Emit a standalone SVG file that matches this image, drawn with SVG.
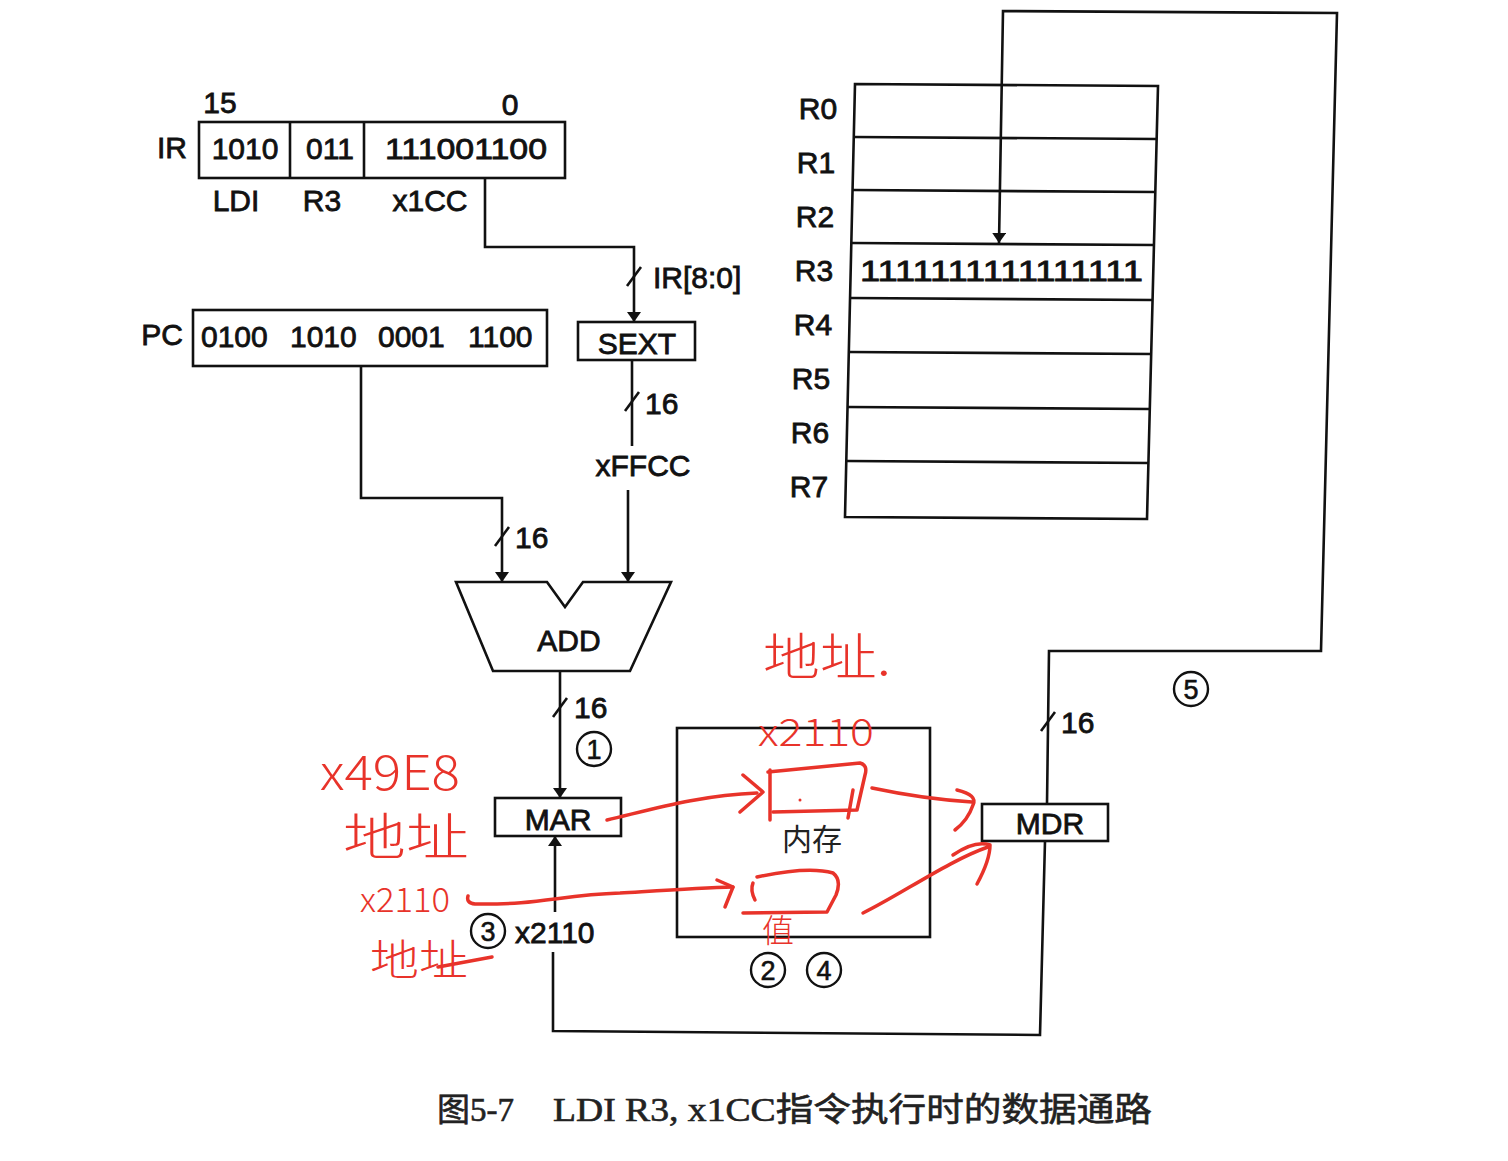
<svg xmlns="http://www.w3.org/2000/svg" width="1508" height="1161" viewBox="0 0 1508 1161">
<style>
.ln{stroke:#111;stroke-width:2.6;fill:none}
.bx{stroke:#111;stroke-width:2.6;fill:none}
.t{font-family:"Liberation Sans",Arial,sans-serif;font-size:30px;fill:#111;stroke:#111;stroke-width:0.8}
.tc{font-family:"Liberation Sans",Arial,sans-serif;font-size:30px;fill:#111;stroke:#111;stroke-width:0.8;text-anchor:middle}
.cj{font-family:"Noto Sans CJK SC",sans-serif;font-size:30px;fill:#222;text-anchor:middle}
.cap{font-family:"Liberation Serif","Noto Sans CJK SC",serif;font-size:33px;fill:#222;stroke:#222;stroke-width:0.6}
.num{font-family:"Liberation Sans",Arial,sans-serif;font-size:27px;fill:#111;stroke:#111;stroke-width:0.6;text-anchor:middle}
.red{stroke:#e8332a;stroke-width:3.5;fill:none;stroke-linecap:round;stroke-linejoin:round}
.rt{font-family:"Noto Sans CJK SC",sans-serif;fill:#e8332a;font-weight:300}
</style>
<defs>
<marker id="ah" viewBox="0 0 10 14" refX="10" refY="7" markerWidth="10" markerHeight="14" markerUnits="userSpaceOnUse" orient="auto">
<path d="M0,0 L10,7 L0,14 z" fill="#111"/>
</marker>
</defs>
<rect width="1508" height="1161" fill="#fff"/>

<g id="IR">
<text class="tc" x="220" y="113">15</text>
<text class="tc" x="510" y="115">0</text>
<text class="tc" x="172" y="158">IR</text>
<rect class="bx" x="199" y="122" width="366" height="56"/>
<line class="ln" x1="290" y1="122" x2="290" y2="178"/>
<line class="ln" x1="364" y1="122" x2="364" y2="178"/>
<text class="tc" x="245" y="159">1010</text>
<text class="tc" x="330" y="159">011</text>
<text class="tc" x="466" y="159" textLength="162" lengthAdjust="spacingAndGlyphs">111001100</text>
<text class="tc" x="236" y="211">LDI</text>
<text class="tc" x="322" y="211">R3</text>
<text class="tc" x="430" y="211">x1CC</text>
</g>

<g id="PC">
<text class="tc" x="162" y="345">PC</text>
<rect class="bx" x="193" y="310" width="354" height="56"/>
<text class="t" x="201" y="347">0100</text>
<text class="t" x="290" y="347">1010</text>
<text class="t" x="378" y="347">0001</text>
<text class="t" x="468" y="347">1100</text>
</g>

<g id="SEXT">
<rect class="bx" x="578" y="322" width="117" height="38"/>
<text class="tc" x="637" y="354">SEXT</text>
</g>

<g id="ADD">
<polygon class="bx" points="456,582 547,582 565,607 583,582 671,582 630,671 493,671"/>
<text class="tc" x="569" y="651">ADD</text>
</g>

<g id="MAR">
<rect class="bx" x="495" y="798" width="126" height="38"/>
<text class="tc" x="558" y="830">MAR</text>
</g>

<g id="MDR">
<rect class="bx" x="982" y="804" width="126" height="37"/>
<text class="tc" x="1050" y="834">MDR</text>
</g>

<g id="memory">
<rect class="bx" x="677" y="728" width="253" height="209"/>
<text class="cj" x="812" y="850">内存</text>
</g>

<g id="regfile">
<polygon class="bx" points="855,84 1158,86 1147,519 845,517"/>
<line class="ln" x1="854" y1="137" x2="1157" y2="139"/>
<line class="ln" x1="853" y1="190" x2="1156" y2="192"/>
<line class="ln" x1="852" y1="243" x2="1154" y2="245"/>
<line class="ln" x1="851" y1="298" x2="1153" y2="300"/>
<line class="ln" x1="849" y1="352" x2="1152" y2="354"/>
<line class="ln" x1="848" y1="407" x2="1150" y2="409"/>
<line class="ln" x1="847" y1="461" x2="1149" y2="463"/>
<text class="tc" x="818" y="119">R0</text>
<text class="tc" x="816" y="173">R1</text>
<text class="tc" x="815" y="227">R2</text>
<text class="tc" x="814" y="281">R3</text>
<text class="tc" x="813" y="335">R4</text>
<text class="tc" x="811" y="389">R5</text>
<text class="tc" x="810" y="443">R6</text>
<text class="tc" x="809" y="497">R7</text>
<text class="t" x="860" y="281" font-size="28" textLength="283" lengthAdjust="spacingAndGlyphs">1111111111111111</text>
</g>

<g id="connectors">
<path class="ln" d="M485,178 V247 H634 V322" marker-end="url(#ah)"/>
<line class="ln" x1="627" y1="286" x2="641" y2="267"/>
<text class="t" x="653" y="288">IR[8:0]</text>
<path class="ln" d="M632,360 V446"/>
<line class="ln" x1="625" y1="411" x2="639" y2="392"/>
<text class="t" x="645" y="414">16</text>
<text class="tc" x="643" y="476">xFFCC</text>
<path class="ln" d="M628,490 V582" marker-end="url(#ah)"/>
<path class="ln" d="M361,366 V498 H502 V582" marker-end="url(#ah)"/>
<line class="ln" x1="495" y1="546" x2="509" y2="527"/>
<text class="t" x="515" y="548">16</text>
<path class="ln" d="M560,671 V798" marker-end="url(#ah)"/>
<line class="ln" x1="553" y1="717" x2="567" y2="698"/>
<text class="t" x="574" y="718">16</text>
<path class="ln" d="M555,912 V836" marker-end="url(#ah)"/>
<path class="ln" d="M553,952 V1031 L1040,1035 L1045,841"/>
<path class="ln" d="M1047,804 L1049,651 L1321,651 L1337,13 L1003,11 L999,243" marker-end="url(#ah)"/>
<line class="ln" x1="1041" y1="731" x2="1055" y2="712"/>
<text class="t" x="1061" y="733">16</text>
</g>

<g id="step-labels">
<circle cx="594" cy="749" r="17" fill="none" stroke="#111" stroke-width="2.4"/>
<text class="num" x="594" y="759">1</text>
<circle cx="488" cy="931" r="17" fill="none" stroke="#111" stroke-width="2.4"/>
<text class="num" x="488" y="941">3</text>
<text class="t" x="515" y="943">x2110</text>
<circle cx="768" cy="970" r="17" fill="none" stroke="#111" stroke-width="2.4"/>
<text class="num" x="768" y="980">2</text>
<circle cx="824" cy="970" r="17" fill="none" stroke="#111" stroke-width="2.4"/>
<text class="num" x="824" y="980">4</text>
<circle cx="1191" cy="689" r="17" fill="none" stroke="#111" stroke-width="2.4"/>
<text class="num" x="1191" y="699">5</text>
</g>

<g id="caption">
<text class="cap" x="437" y="1121">图5-7</text>
<text class="cap" x="553" y="1121" textLength="599" lengthAdjust="spacingAndGlyphs">LDI R3, x1CC指令执行时的数据通路</text>
</g>

<g id="annotations">
<text class="rt" x="763" y="675" font-size="50" textLength="128" lengthAdjust="spacingAndGlyphs">地址.</text>
<text class="rt" x="758" y="746" font-size="38" textLength="116" lengthAdjust="spacingAndGlyphs">x2110</text>
<text class="rt" x="320" y="790" font-size="48" textLength="140" lengthAdjust="spacingAndGlyphs">x49E8</text>
<text class="rt" x="343" y="855" font-size="50" textLength="126" lengthAdjust="spacingAndGlyphs">地址</text>
<text class="rt" x="360" y="912" font-size="34" textLength="90" lengthAdjust="spacingAndGlyphs">x2110</text>
<text class="rt" x="370" y="975" font-size="42" textLength="98" lengthAdjust="spacingAndGlyphs">地址</text>
<text class="rt" x="762" y="942" font-size="32">值</text>
<path class="red" d="M438,967 Q465,962 492,957"/>
<path class="red" d="M607,820 C650,810 700,795 757,793"/>
<path class="red" d="M743,775 L763,792 L740,812"/>
<path class="red" d="M768,772 L860,763 Q868,765 865,775 L857,810 L773,812"/>
<path class="red" d="M770,770 V820"/>
<path class="red" d="M853,790 L848,818"/>
<circle cx="800" cy="800" r="1.5" fill="#e8332a"/>
<path class="red" d="M872,788 C905,795 940,800 972,802"/>
<path class="red" d="M957,790 Q978,795 973,805 Q968,820 955,830"/>
<path class="red" d="M468,896 Q466,903 475,904 C540,905 560,895 620,893 C670,890 700,888 733,887"/>
<path class="red" d="M717,880 L733,887 L725,907"/>
<path class="red" d="M757,877 C790,870 815,868 833,873 Q842,880 836,895 L827,912 L743,913"/>
<path class="red" d="M753,883 Q750,890 755,900"/>
<path class="red" d="M863,913 C900,895 950,860 988,847"/>
<path class="red" d="M953,855 Q975,840 990,845 Q990,860 977,884"/>
</g>
</svg>
